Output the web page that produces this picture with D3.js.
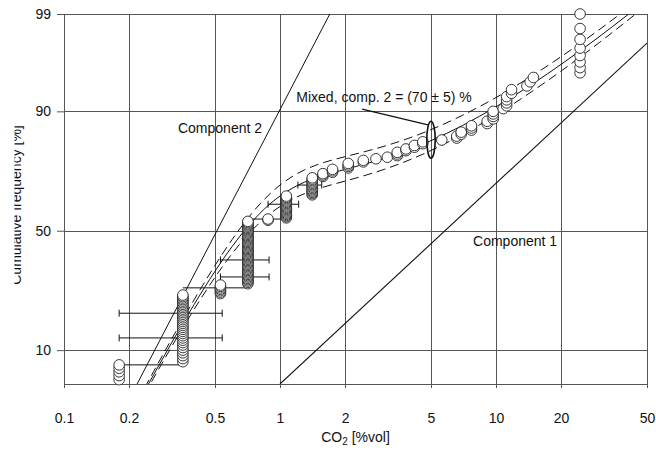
<!DOCTYPE html>
<html><head><meta charset="utf-8">
<script src="https://cdn.jsdelivr.net/npm/d3@7"></script>
<style>
body{margin:0;background:#fff}
svg{display:block}
text{font-family:"Liberation Sans",Arial,sans-serif;fill:#111}
</style>
</head><body><svg id="c" width="656" height="450"></svg>
<script>
// ---------- data ----------
const xTicks = [0.1, 0.2, 0.5, 1, 2, 5, 10, 20, 50];
const xTickLabels = ["0.1", "0.2", "0.5", "1", "2", "5", "10", "20", "50"];
const yTicks = [10, 50, 90, 99];
const yTickLabels = ["10", "50", "90", "99"];

// measured CO2 values [%vol] and number of samples at each value
const co2Values = [0.18, 0.355, 0.53, 0.71, 0.88, 1.07, 1.41, 1.58, 1.75, 2.07, 2.43, 2.78, 3.14, 3.49, 3.83, 4.19, 4.58, 5.61, 6.58, 6.9, 7.7, 9.1, 9.7, 10.8, 11.2, 11.8, 13.9, 14.4, 14.9, 24.5];
const co2Counts = [15, 34, 7, 52, 2, 19, 14, 3, 3, 4, 2, 1, 1, 3, 2, 2, 2, 1, 2, 2, 3, 2, 4, 1, 4, 2, 1, 1, 1, 9];

// fitted mixture (comp. 2 = 70 %) and its 65 % / 75 % bounds: [CO2, cumulative %]
const mixedFit = [[0.22,3.22],[0.24,4.55],[0.26,6.11],[0.30,9.87],[0.35,15.41],[0.40,21.41],[0.50,33.18],[0.60,43.26],[0.70,51.15],[0.80,57.05],[0.90,61.39],[1.00,64.53],[1.15,67.78],[1.30,69.91],[1.45,71.37],[1.60,72.46],[1.80,73.58],[2.00,74.49],[2.50,76.38],[3.00,78.03],[4.00,80.91],[5.00,83.33],[7.00,87.08],[10,90.84],[15,94.38],[20,96.29],[30,98.13],[40,98.94],[50,99.34]];
const mixedUpper = [[0.22,3.44],[0.24,4.87],[0.26,6.55],[0.30,10.56],[0.35,16.48],[0.40,22.90],[0.50,35.47],[0.60,46.23],[0.70,54.63],[0.80,60.91],[0.90,65.47],[1.00,68.80],[1.15,72.17],[1.30,74.33],[1.45,75.78],[1.60,76.83],[1.80,77.86],[2.00,78.67],[2.50,80.31],[3.00,81.69],[4.00,84.09],[5.00,86.11],[7.00,89.24],[10,92.36],[15,95.32],[20,96.91],[30,98.45],[40,99.12],[50,99.45]];
const mixedLower = [[0.22,3.00],[0.24,4.24],[0.26,5.69],[0.30,9.19],[0.35,14.34],[0.40,19.92],[0.50,30.88],[0.60,40.29],[0.70,47.67],[0.80,53.20],[0.90,57.29],[1.00,60.28],[1.15,63.41],[1.30,65.49],[1.45,66.97],[1.60,68.10],[1.80,69.30],[2.00,70.30],[2.50,72.47],[3.00,74.37],[4.00,77.73],[5.00,80.55],[7.00,84.93],[10,89.31],[15,93.45],[20,95.67],[30,97.82],[40,98.76],[50,99.23]];

const component1 = [[1.0, 5], [50, 97.8]];
const component2 = [[0.218, 5], [1.70, 99]];

// horizontal uncertainty bars [xLow, xHigh, cumulative %]
const errorBars = [[0.18,0.54,12.5],[0.18,0.54,18.8],[0.53,0.89,31.0],[0.53,0.89,37.7],[0.88,1.22,61.2],[1.21,1.56,68.8]];
// connecting step lines [xFrom, xTo, cumulative %]
const stepLines = [[0.18,0.355,7.5],[0.355,0.71,27.0],[0.71,1.07,55.0]];

// annotation
const ellipseX = [4.78, 5.23];
const ellipseP = [78.2, 88.0];
const leaderLine = [[2.40, 90.4], [4.84, 87.2]];
const labels = [
  {text: "Mixed, comp. 2 = (70 \u00b1 5) %", x: 1.19, p: 91.6},
  {text: "Component 2", x: 0.337, p: 85.2},
  {text: "Component 1", x: 7.83, p: 43.5}
];

// ---------- scales ----------
function probit(p){
  const a=[-3.969683028665376e+01,2.209460984245205e+02,-2.759285104469687e+02,1.383577518672690e+02,-3.066479806614716e+01,2.506628277459239e+00];
  const b=[-5.447609879822406e+01,1.615858368580409e+02,-1.556989798598866e+02,6.680131188771972e+01,-1.328068155288572e+01];
  const c=[-7.784894002430293e-03,-3.223964580411365e-01,-2.400758277161838e+00,-2.549732539343734e+00,4.374664141464968e+00,2.938163982698783e+00];
  const d=[7.784695709041462e-03,3.224671290700398e-01,2.445134137142996e+00,3.754408661907416e+00];
  const pl=0.02425, ph=1-pl; let q,r;
  if(p<pl){q=Math.sqrt(-2*Math.log(p));return (((((c[0]*q+c[1])*q+c[2])*q+c[3])*q+c[4])*q+c[5])/((((d[0]*q+d[1])*q+d[2])*q+d[3])*q+1);}
  if(p<=ph){q=p-0.5;r=q*q;return (((((a[0]*r+a[1])*r+a[2])*r+a[3])*r+a[4])*r+a[5])*q/(((((b[0]*r+b[1])*r+b[2])*r+b[3])*r+b[4])*r+1);}
  q=Math.sqrt(-2*Math.log(1-p));return -(((((c[0]*q+c[1])*q+c[2])*q+c[3])*q+c[4])*q+c[5])/((((d[0]*q+d[1])*q+d[2])*q+d[3])*q+1);
}

const L = 64, R = 647, T = 14, B = 384;
const x = d3.scaleLog().domain([0.1, 50]).range([L, R]);
const zScale = d3.scaleLinear().domain([probit(0.05), probit(0.99)]).range([B, T]);
const y = p => zScale(probit(p / 100));

const svg = d3.select("#c");
svg.append("rect").attr("width",656).attr("height",450).attr("fill","#fff");

const defs = svg.append("defs");
defs.append("clipPath").attr("id","plot").append("rect")
  .attr("x",L).attr("y",T).attr("width",R-L).attr("height",B-T);
defs.append("clipPath").attr("id","ytitle").append("rect")
  .attr("x",14.5).attr("y",0).attr("width",60).attr("height",450);

// ---------- grid ----------
const grid = svg.append("g").attr("stroke","#555").attr("stroke-width",1).attr("shape-rendering","crispEdges");
grid.selectAll(".v").data(xTicks).join("line")
  .attr("x1",d=>Math.round(x(d))+0.5).attr("x2",d=>Math.round(x(d))+0.5)
  .attr("y1",T).attr("y2",B);
grid.selectAll(".h").data(yTicks.concat([5])).join("line")
  .attr("x1",L).attr("x2",R)
  .attr("y1",d=>Math.round(y(d))+0.5).attr("y2",d=>Math.round(y(d))+0.5);

// ---------- axes ----------
const xAxis = d3.axisBottom(x).tickValues(xTicks).tickFormat((d,i)=>xTickLabels[i]).tickSize(4).tickPadding(25);
const gx = svg.append("g").attr("transform",`translate(0,${B})`).call(xAxis);
gx.select(".domain").remove();
gx.selectAll("line").attr("stroke","#555");
gx.selectAll("text").attr("font-size",14).attr("fill","#111").style("font-family","Liberation Sans, Arial, sans-serif");

const yAxis = d3.axisLeft(zScale).tickValues(yTicks.map(p=>probit(p/100))).tickFormat((d,i)=>yTickLabels[i]).tickSize(7).tickPadding(6);
const gy = svg.append("g").attr("transform",`translate(${L},0)`).call(yAxis);
gy.select(".domain").remove();
gy.selectAll("line").attr("stroke","#555");
gy.selectAll("text").attr("font-size",14).attr("fill","#111").style("font-family","Liberation Sans, Arial, sans-serif");

// axis titles
const xt = svg.append("text").attr("x",(L+R)/2).attr("y",442).attr("text-anchor","middle").attr("font-size",14);
xt.append("tspan").text("CO");
xt.append("tspan").text("2").attr("font-size",10).attr("dy",3);
xt.append("tspan").text(" [%vol]").attr("dy",-3);

svg.append("g").attr("clip-path","url(#ytitle)")
  .append("text").attr("transform","translate(21,205) rotate(-90)")
  .attr("text-anchor","middle").attr("font-size",14).text("Cumulative frequency [%]");

// ---------- lines ----------
const line = d3.line().x(d=>x(d[0])).y(d=>y(d[1]));
const smooth = d3.line().x(d=>x(d[0])).y(d=>y(d[1])).curve(d3.curveMonotoneX);
const plot = svg.append("g").attr("clip-path","url(#plot)").attr("fill","none").attr("stroke","#111");

plot.append("path").attr("d",line(component2)).attr("stroke-width",1);
plot.append("path").attr("d",line(component1)).attr("stroke-width",1.1);
plot.append("path").attr("d",smooth(mixedFit)).attr("stroke-width",1);
plot.append("path").attr("d",smooth(mixedUpper)).attr("stroke-width",1).attr("stroke-dasharray","9,5");
plot.append("path").attr("d",smooth(mixedLower)).attr("stroke-width",1).attr("stroke-dasharray","9,5");

// step lines
plot.selectAll(".step").data(stepLines).join("line")
  .attr("x1",d=>x(d[0])).attr("x2",d=>x(d[1]))
  .attr("y1",d=>y(d[2])).attr("y2",d=>y(d[2])).attr("stroke-width",1);

// error bars
const eb = svg.append("g").attr("stroke","#111").attr("stroke-width",1);
errorBars.forEach(d=>{
  const yy = y(d[2]);
  eb.append("line").attr("x1",x(d[0])).attr("x2",x(d[1])).attr("y1",yy).attr("y2",yy);
  eb.append("line").attr("x1",x(d[0])).attr("x2",x(d[0])).attr("y1",yy-3.5).attr("y2",yy+3.5);
  eb.append("line").attr("x1",x(d[1])).attr("x2",x(d[1])).attr("y1",yy-3.5).attr("y2",yy+3.5);
});

// ---------- sample points ----------
const N = d3.sum(co2Counts);
const pts = [];
let idx = 0;
co2Values.forEach((v,k)=>{
  for(let j=0;j<co2Counts[k];j++){
    idx++;
    const p = idx/(N+1)*100;
    if(p>5.01 && p<=99.01) pts.push([v,p]);
  }
});
svg.append("g").selectAll("circle").data(pts).join("circle")
  .attr("cx",d=>x(d[0])).attr("cy",d=>y(d[1])).attr("r",5.3)
  .attr("fill","#fff").attr("stroke","#222").attr("stroke-width",0.9);

// ---------- annotation ----------
const ex = ellipseX.map(x), ey = ellipseP.map(y);
svg.append("ellipse")
  .attr("cx",(ex[0]+ex[1])/2).attr("cy",(ey[0]+ey[1])/2)
  .attr("rx",Math.abs(ex[1]-ex[0])/2).attr("ry",Math.abs(ey[1]-ey[0])/2)
  .attr("fill","none").attr("stroke","#111").attr("stroke-width",1.6);
svg.append("path").attr("d",line(leaderLine)).attr("stroke","#111").attr("stroke-width",1.2).attr("fill","none");

svg.selectAll(".lbl").data(labels).join("text")
  .attr("x",d=>x(d.x)).attr("y",d=>y(d.p)).attr("font-size",14).text(d=>d.text);
</script>
</body></html>
